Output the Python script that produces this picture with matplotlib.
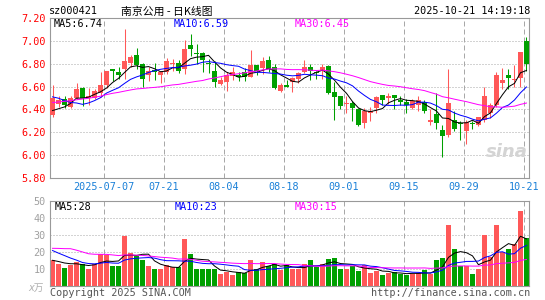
import numpy as np
import pandas as pd
import matplotlib
matplotlib.use("Agg")
import matplotlib.pyplot as plt

plt.rcParams['font.family'] = ['DejaVu Sans Mono', 'Noto Sans CJK SC']

# daily candles, 2025-06-24 .. 2025-10-21 (80 sessions)
opens = [6.35, 6.45, 6.49, 6.42, 6.50, 6.59, 6.50, 6.50, 6.54, 6.61,
         6.755, 6.73, 6.75, 6.805, 6.88, 6.80, 6.70, 6.745, 6.70, 6.725,
         6.80, 6.81, 6.755, 6.96, 6.895, 6.895, 6.81, 6.74, 6.625, 6.64,
         6.69, 6.70, 6.725, 6.68, 6.785, 6.76, 6.83, 6.77, 6.565, 6.61,
         6.64, 6.67, 6.725, 6.77, 6.725, 6.74, 6.78, 6.555, 6.52, 6.445,
         6.455, 6.405, 6.28, 6.37, 6.41, 6.53, 6.50, 6.53, 6.48, 6.465,
         6.41, 6.435, 6.465, 6.29, 6.36, 6.22, 6.18, 6.305, 6.28, 6.215,
         6.28, 6.26, 6.31, 6.37, 6.435, 6.635, 6.705, 6.655, 6.675, 7.00]
closes = [6.50, 6.48, 6.44, 6.50, 6.575, 6.50, 6.52, 6.565, 6.61, 6.74,
          6.74, 6.705, 6.82, 6.855, 6.79, 6.67, 6.74, 6.725, 6.725, 6.82,
          6.81, 6.74, 6.925, 6.925, 6.887, 6.83, 6.80, 6.64, 6.66, 6.70,
          6.73, 6.68, 6.68, 6.79, 6.74, 6.82, 6.755, 6.59, 6.61, 6.60,
          6.675, 6.72, 6.775, 6.74, 6.715, 6.77, 6.545, 6.51, 6.43, 6.45,
          6.41, 6.265, 6.39, 6.39, 6.51, 6.485, 6.515, 6.50, 6.465, 6.435,
          6.47, 6.48, 6.385, 6.31, 6.285, 6.165, 6.46, 6.23, 6.27, 6.29,
          6.275, 6.33, 6.52, 6.435, 6.70, 6.66, 6.675, 6.67, 6.90, 6.80]
highs = [6.61, 6.52, 6.52, 6.52, 6.63, 6.595, 6.59, 6.58, 6.73, 6.74,
         6.755, 6.77, 7.10, 6.88, 6.94, 6.81, 6.77, 6.81, 6.74, 6.85,
         6.84, 6.83, 7.01, 7.06, 6.97, 6.90, 6.84, 6.825, 6.68, 6.73,
         6.77, 6.73, 6.76, 6.92, 6.79, 6.86, 6.87, 6.80, 6.635, 6.655,
         6.68, 6.725, 6.83, 6.80, 6.74, 6.80, 6.785, 6.64, 6.52, 6.52,
         6.475, 6.41, 6.41, 6.42, 6.52, 6.53, 6.54, 6.53, 6.52, 6.49,
         6.49, 6.52, 6.48, 6.405, 6.54, 6.26, 6.755, 6.39, 6.30, 6.305,
         6.30, 6.335, 6.595, 6.46, 6.725, 6.76, 6.755, 6.79, 6.90, 7.03]
lows = [6.33, 6.42, 6.41, 6.41, 6.49, 6.43, 6.44, 6.49, 6.51, 6.59,
        6.65, 6.67, 6.67, 6.77, 6.75, 6.60, 6.645, 6.66, 6.63, 6.71,
        6.74, 6.72, 6.71, 6.87, 6.80, 6.73, 6.72, 6.60, 6.615, 6.565,
        6.66, 6.65, 6.645, 6.68, 6.70, 6.71, 6.73, 6.575, 6.555, 6.595,
        6.55, 6.63, 6.72, 6.66, 6.67, 6.67, 6.535, 6.31, 6.405, 6.37,
        6.295, 6.255, 6.24, 6.30, 6.37, 6.44, 6.45, 6.40, 6.435, 6.37,
        6.405, 6.39, 6.37, 6.26, 6.23, 5.985, 6.16, 6.215, 6.13, 6.10,
        6.225, 6.255, 6.29, 6.325, 6.42, 6.58, 6.58, 6.595, 6.595, 6.74]
vols = [15.2, 12.5, 10.6, 12.3, 13.7, 12.5, 10.0, 12.9, 18.7, 18.2,
        11.4, 11.4, 29.4, 19.5, 17.2, 14.9, 11.7, 9.6, 9.6, 12.3,
        11.0, 10.8, 27.5, 18.9, 10.0, 9.6, 9.6, 9.6, 6.7, 8.1,
        6.5, 7.7, 7.3, 14.9, 10.0, 13.7, 11.6, 12.5, 9.4, 11.9,
        9.6, 9.6, 12.5, 14.9, 11.0, 12.9, 15.4, 16.0, 9.6, 9.8,
        11.6, 8.4, 12.3, 7.5, 8.4, 6.1, 7.5, 7.9, 7.1, 6.5,
        6.9, 7.5, 9.0, 7.1, 14.9, 16.4, 35.8, 21.6, 11.6, 11.6,
        7.1, 9.6, 29.8, 17.0, 35.8, 19.7, 21.6, 24.6, 44.0, 27.9]

# 29 sessions before the window (estimated from where the MA lines start)
prev_closes = [6.30, 6.28, 6.32, 6.35, 6.30, 6.33, 6.30, 6.32, 6.33,
               6.40, 6.45, 6.50, 6.55, 6.52, 6.55, 6.58, 6.60, 6.56, 6.58, 6.57,
               6.60, 6.65, 6.66, 6.62, 6.62, 6.40, 6.36, 6.35, 6.34]
prev_vols = [14, 15, 13, 40, 44, 42,
             22, 20, 19, 21, 23, 18, 20, 21, 19, 22, 20, 21, 19, 20,
             28, 25, 27, 26, 26.5, 16, 15, 14.5, 13.8]

tick_pos = [9, 19, 29, 39, 49, 59, 69, 79]
tick_labels = ['2025-07-07', '07-21', '08-04', '08-18', '09-01', '09-15', '09-29', '10-21']
ma_labels = ['MA5:6.74', 'MA10:6.59', 'MA30:6.45']
vma_labels = ['MA5:28', 'MA10:23', 'MA30:15']

RED = '#ff5858'
GREEN = '#00a000'
GRID = '#a8a8a8'
W, H = 545, 300

n = len(closes)
x = np.arange(n)
o = np.array(opens); c = np.array(closes)
hi = np.array(highs); lo = np.array(lows)
v = np.array(vols)
up = c >= o
cols = np.where(up, RED, GREEN)

cs = pd.Series(prev_closes + closes)
vs = pd.Series(prev_vols + vols)
ma = {k: cs.rolling(k).mean().values[-n:] for k in (5, 10, 30)}
vma = {k: vs.rolling(k).mean().values[-n:] for k in (5, 10, 30)}
ma_cols = {5: 'black', 10: '#0000ff', 30: '#ff00ff'}

fig = plt.figure(figsize=(W / 100, H / 100), dpi=100)
fig.patch.set_facecolor('white')


def px_axes(l, t, r, b):
    return fig.add_axes([l / W, 1 - b / H, (r - l) / W, (b - t) / H])


ax = px_axes(50, 18, 529, 178)
axv = px_axes(50, 201, 529, 285.5)

for a in (ax, axv):
    a.set_xlim(-0.42, n - 0.58)
    for s in a.spines.values():
        s.set_color('#999999')
        s.set_linewidth(0.8)
    a.tick_params(length=0, pad=3)
    a.set_xticks([])
    for t in tick_pos:
        a.axvline(t - 0.4, color=GRID, lw=0.72, ls=(0, (5, 3)), zorder=0)

# price panel
ax.set_ylim(5.8, 7.2)
yt = np.round(np.arange(5.8, 7.21, 0.2), 2)
ax.set_yticks(yt)
ax.set_yticklabels(['%.2f' % t for t in yt], color='#ff0000', fontsize=7.3)
for t in yt[1:-1]:
    ax.axhline(t, color=GRID, lw=0.72, ls=(0, (1, 2)), zorder=0)

ax.vlines(x, lo, hi, colors=cols, lw=0.75, zorder=2)
body_h = np.maximum(np.abs(c - o), 0.009)
ax.bar(x, body_h, bottom=np.minimum(o, c), width=0.8, color=cols, lw=0, zorder=3)
for k in (5, 10, 30):
    ax.plot(x, ma[k], color=ma_cols[k], lw=0.72, zorder=4)

# watermark
ax.text(79.2, 6.03, 'sina', fontsize=13, fontweight='bold', style='italic',
        family='DejaVu Sans', color='#d4d4d4', ha='right', va='center', zorder=1)

# volume panel
axv.set_ylim(0, 50)
axv.set_yticks([10, 20, 30, 40, 50])
axv.set_yticklabels(['10', '20', '30', '40', '50'], color='#a0a0a0', fontsize=7.3)
for t in (10, 20, 30, 40):
    axv.axhline(t, color=GRID, lw=0.72, ls=(0, (1, 2)), zorder=0)
axv.bar(x, v, width=0.8, color=cols, lw=0, zorder=2)
for k in (5, 10, 30):
    axv.plot(x, vma[k], color=ma_cols[k], lw=0.72, zorder=3)


def ftext(px, py, s, **kw):
    kw.setdefault('fontsize', 7.3)
    kw.setdefault('va', 'center')
    fig.text(px / W, 1 - py / H, s, **kw)


# date labels
for t, lab in zip(tick_pos, tick_labels):
    xp = 50 + (t - 0.4 + 0.42) * 6
    ftext(xp, 186.5, lab, color='#1a80d8', ha='center')

# header
ftext(49, 11.5, 'sz000421', color='black')
ftext(121, 11.5, '南京公用 - 日K线图', color='black', fontsize=7.8,
      family=['Noto Sans CJK SC', 'DejaVu Sans'])
ftext(530, 11.5, '2025-10-21 14:19:18', color='black', ha='right')

# MA legends
for xp, lab, col in zip([54, 174, 295], ma_labels, ['black', '#0000ff', '#ff00ff']):
    ftext(xp, 24, lab, color=col)
for xp, lab, col in zip([55, 175, 295], vma_labels, ['black', '#0000ff', '#ff00ff']):
    ftext(xp, 206.5, lab, color=col)

ftext(28, 288, 'x万', color='#b0b0b0', fontsize=7, style='italic',
      family=['DejaVu Sans', 'Noto Sans CJK SC'])
ftext(50, 293, 'Copyright 2025 SINA.COM', color='#555555')
ftext(530, 293, 'http://finance.sina.com.cn', color='#555555', ha='right')

fig.savefig('out.png', dpi=100, facecolor='white')
